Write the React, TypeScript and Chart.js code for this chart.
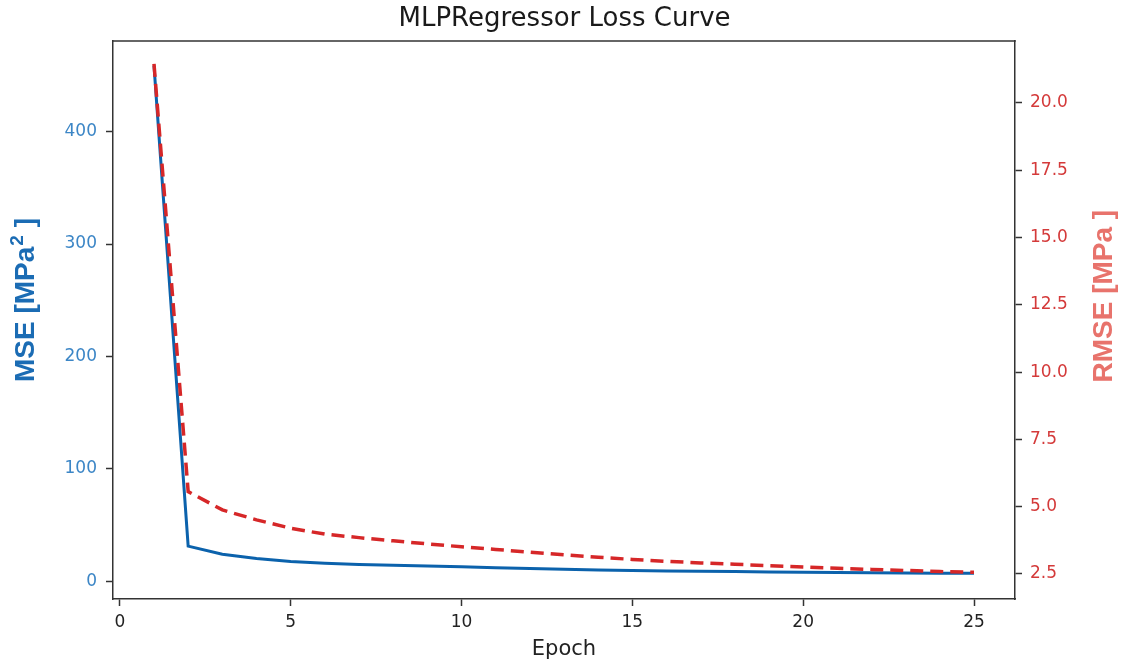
import React, { useEffect, useRef } from "react";
import { Chart, registerables } from "chart.js";

Chart.register(...registerables);

const epochs = [1, 2, 3, 4, 5, 6, 7, 8, 9, 10, 11, 12, 13, 14, 15, 16, 17, 18, 19, 20, 21, 22, 23, 24, 25];
const mseValues = [458.6, 31.2, 24.0, 20.2, 17.6, 16.0, 15.0, 14.2, 13.5, 12.8, 12.1, 11.4, 10.6, 10.1, 9.6, 9.2, 8.9, 8.6, 8.3, 8.0, 7.8, 7.6, 7.4, 7.2, 7.0];
const rmseValues = [21.45, 5.56, 4.88, 4.51, 4.2, 3.98, 3.85, 3.73, 3.62, 3.51, 3.41, 3.31, 3.21, 3.12, 3.04, 2.97, 2.91, 2.86, 2.81, 2.76, 2.71, 2.67, 2.63, 2.59, 2.56];

const xTickValues = [0, 5, 10, 15, 20, 25];
const mseTickValues = [0, 100, 200, 300, 400];
const rmseTickValues = [2.5, 5.0, 7.5, 10.0, 12.5, 15.0, 17.5, 20.0];

const chartTitle = "MLPRegressor Loss Curve";
const xAxisTitle = "Epoch";
const leftTitleParts = ["MSE [MPa", "2", " ]"];
const rightTitleParts = ["RMSE [MPa", " ]"];

const FRAME = "#333333";
const TICK_FONT = { family: "DejaVu Sans", size: 17 };

export default function App() {
  const ref = useRef<HTMLCanvasElement | null>(null);

  useEffect(() => {
    const canvas = ref.current;
    if (!canvas) return;

    const framePlugin = {
      id: "frameAndTitles",
      afterDraw(chart: any) {
        const ctx = chart.ctx as CanvasRenderingContext2D;
        const { left, right, top } = chart.chartArea;
        ctx.save();
        ctx.strokeStyle = FRAME;
        ctx.lineWidth = 1.5;
        ctx.beginPath();
        ctx.moveTo(left - 0.75, top);
        ctx.lineTo(right + 0.75, top);
        ctx.stroke();
        ctx.restore();

        // Left (MSE) axis title with superscript
        const bold = "bold 28px 'Liberation Sans', Arial, sans-serif";
        const sup = "bold 19px 'Liberation Sans', Arial, sans-serif";
        ctx.save();
        ctx.translate(34, 382);
        ctx.rotate(-Math.PI / 2);
        ctx.textBaseline = "alphabetic";
        ctx.textAlign = "left";
        ctx.fillStyle = "#1b6cb4";
        let x = 0;
        ctx.font = bold;
        ctx.fillText(leftTitleParts[0], x, 0);
        x += ctx.measureText(leftTitleParts[0]).width + 1;
        ctx.font = sup;
        ctx.fillText(leftTitleParts[1], x, -11);
        x += ctx.measureText(leftTitleParts[1]).width;
        ctx.font = bold;
        ctx.fillText(leftTitleParts[2], x, 0);
        ctx.restore();

        // Right (RMSE) axis title
        ctx.save();
        ctx.translate(1112, 382.5);
        ctx.rotate(-Math.PI / 2);
        ctx.textBaseline = "alphabetic";
        ctx.textAlign = "left";
        ctx.fillStyle = "#e8736c";
        ctx.font = bold;
        ctx.fillText(rightTitleParts.join(""), 0, 0);
        ctx.restore();
      },
    };

    const gridOpts = {
      drawOnChartArea: false,
      drawTicks: true,
      tickLength: 7,
      tickColor: FRAME,
      tickWidth: 1.5,
    };
    const borderOpts = { display: true, color: FRAME, width: 1.5 };
    const setTicks = (values: number[]) => (s: any) => {
      s.ticks = values.map((v) => ({ value: v }));
    };

    const chart = new Chart(canvas, {
      type: "line",
      data: {
        datasets: [
          {
            label: "RMSE",
            data: epochs.map((e, i) => ({ x: e, y: rmseValues[i] })),
            yAxisID: "y1",
            borderColor: "#d62728",
            borderWidth: 3.5,
            borderDash: [13, 7],
            pointRadius: 0,
            fill: false,
            tension: 0,
          },
          {
            label: "MSE",
            data: epochs.map((e, i) => ({ x: e, y: mseValues[i] })),
            yAxisID: "y",
            borderColor: "#0b62ac",
            borderWidth: 3,
            pointRadius: 0,
            fill: false,
            tension: 0,
          },
        ],
      },
      options: {
        responsive: false,
        animation: false,
        devicePixelRatio: 1,
        layout: { padding: 0 },
        plugins: {
          legend: { display: false },
          tooltip: { enabled: false },
          title: {
            display: true,
            text: chartTitle,
            color: "#1a1a1a",
            font: { family: "DejaVu Sans", size: 26, weight: "normal" },
            padding: { top: 3.4, bottom: 6.4 },
          },
        },
        scales: {
          x: {
            type: "linear",
            min: -0.2,
            max: 26.2,
            afterFit: (s: any) => {
              s.height = 66;
            },
            afterBuildTicks: setTicks(xTickValues),
            ticks: {
              color: "#222222",
              font: TICK_FONT,
              padding: 6,
              maxRotation: 0,
              autoSkip: false,
            },
            grid: gridOpts,
            border: borderOpts,
            title: {
              display: true,
              text: xAxisTitle,
              color: "#222222",
              font: { family: "DejaVu Sans", size: 21 },
              padding: { top: 4, bottom: 3 },
            },
          },
          y: {
            type: "linear",
            position: "left",
            min: -15.8,
            max: 480.6,
            afterFit: (s: any) => {
              s.width = 113;
            },
            afterBuildTicks: setTicks(mseTickValues),
            ticks: {
              color: "#3c86c6",
              font: TICK_FONT,
              padding: 9,
              autoSkip: false,
              callback: (v: any) => String(v),
            },
            grid: gridOpts,
            border: borderOpts,
          },
          y1: {
            type: "linear",
            position: "right",
            min: 1.57,
            max: 22.3,
            afterFit: (s: any) => {
              s.width = 114;
            },
            afterBuildTicks: setTicks(rmseTickValues),
            ticks: {
              color: "#d43a3a",
              font: TICK_FONT,
              padding: 8,
              autoSkip: false,
              callback: (v: any) => Number(v).toFixed(1),
            },
            grid: gridOpts,
            border: borderOpts,
          },
        },
      },
      plugins: [framePlugin],
    } as any);

    return () => chart.destroy();
  }, []);

  return (
    <div style={{ position: "fixed", left: 0, top: 0, width: 1129, height: 665, background: "#ffffff" }}>
      <canvas ref={ref} width={1129} height={665} style={{ display: "block" }} />
    </div>
  );
}
